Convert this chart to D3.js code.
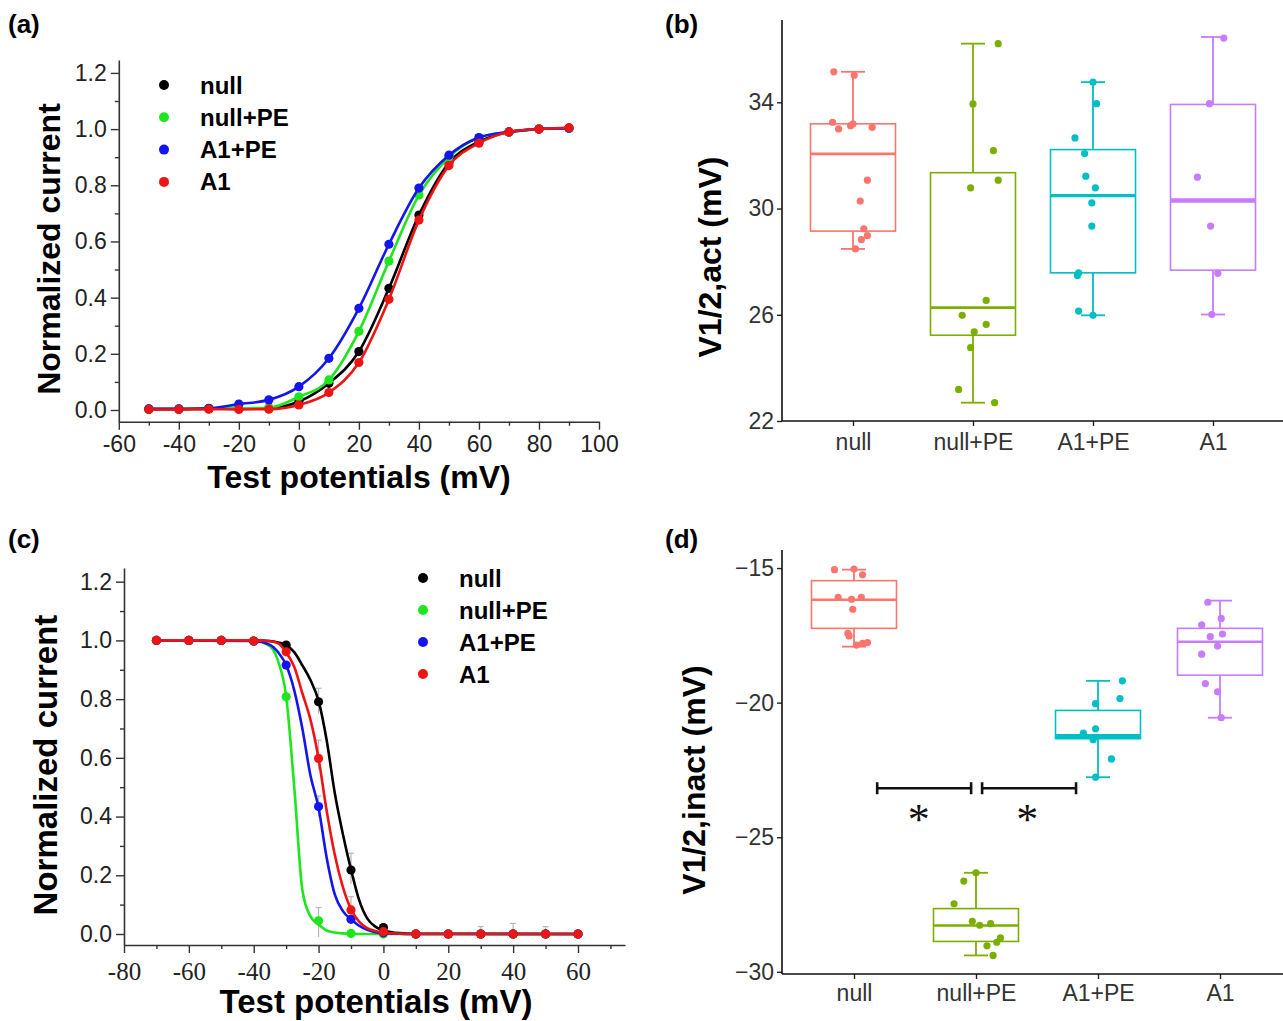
<!DOCTYPE html>
<html>
<head>
<meta charset="utf-8">
<script src="https://cdn.jsdelivr.net/npm/d3@7"></script>
<style>
body { margin: 0; background: #fff; }
svg { display: block; background: #fff; }
</style>
</head>
<body>
<svg id="fig"></svg>
<script>
let width = 1283
let height = 1021

let groups = ['null', 'null+PE', 'A1+PE', 'A1']
let lineColors = ['#000000', '#1ee61e', '#1414ee', '#ee1414']
let boxColors = ['#F8766D', '#7CAE00', '#00BFC4', '#C77CFF']

// (a) activation: measured points
let actV = [-50, -40, -30, -20, -10, 0, 10, 20, 30, 40, 50, 60, 70, 80, 90]
let actNull = [0.003, 0.003, 0.005, 0.005, 0.006, 0.03, 0.095, 0.208, 0.433, 0.694, 0.88, 0.955, 0.99, 1.0, 1.003]
let actNullPE = [0.003, 0.003, 0.005, 0.006, 0.008, 0.047, 0.107, 0.28, 0.53, 0.765, 0.9, 0.97, 0.99, 1.0, 1.003]
let actA1PE = [0.004, 0.004, 0.006, 0.021, 0.036, 0.083, 0.184, 0.362, 0.59, 0.79, 0.907, 0.97, 0.99, 1.0, 1.003]
let actA1 = [0.002, 0.002, 0.003, 0.002, 0.003, 0.018, 0.062, 0.169, 0.394, 0.676, 0.87, 0.95, 0.99, 1.0, 1.005]

// (c) inactivation: measured points
let inactV = [-70, -60, -50, -40, -30, -20, -10, 0, 10, 20, 30, 40, 50, 60]
let inactNull = [1, 1, 1, 0.998, 0.984, 0.791, 0.218, 0.022, 0, 0, 0, 0, 0, 0]
let inactNullPE = [1, 1, 1, 0.998, 0.808, 0.045, 0.002, 0, 0, 0, 0, 0, 0, 0]
let inactA1PE = [1, 1, 1, 0.998, 0.916, 0.434, 0.05, 0.004, 0, 0, 0, 0, 0, 0]
let inactA1 = [1, 1, 1, 0.998, 0.961, 0.598, 0.082, 0.008, 0, 0, 0, 0, 0, 0]

// (c) fitted curves
let fitV = [-70, -40, -35, -32.5, -30, -27.5, -25, -22.5, -20, -17.5, -15, -12.5, -10, -7.5, -5, -2.5, 0, 5, 10, 60]
let fitNull = [1, 1, 0.998, 0.993, 0.984, 0.96, 0.915, 0.865, 0.794, 0.66, 0.48, 0.34, 0.22, 0.116, 0.053, 0.025, 0.012, 0.003, 0.001, 0]
let fitNullPE = [1, 1, 0.98, 0.93, 0.81, 0.5, 0.15, 0.06, 0.032, 0.012, 0.005, 0.002, 0.001, 0, 0, 0, 0, 0, 0, 0]
let fitA1PE = [1, 0.998, 0.985, 0.96, 0.916, 0.83, 0.7, 0.54, 0.43, 0.26, 0.135, 0.078, 0.05, 0.028, 0.014, 0.006, 0.003, 0.001, 0, 0]
let fitA1 = [1, 1, 0.997, 0.99, 0.96, 0.91, 0.82, 0.73, 0.598, 0.42, 0.27, 0.16, 0.085, 0.042, 0.02, 0.01, 0.005, 0.001, 0, 0]

// (c) error bars
let errV = [-20, -10, -20, -10, -20, -20, 30, 40, 50]
let errLo = [0.75, 0.17, 0.56, 0.05, 0.40, -0.01, 0, 0, 0]
let errHi = [0.837, 0.275, 0.66, 0.127, 0.47, 0.09, 0.025, 0.036, 0.025]

// (b) V1/2,act box stats
let actLow = [28.48, 22.69, 25.98, 26.01]
let actQ1 = [29.15, 25.23, 27.58, 27.68]
let actMed = [32.06, 26.27, 30.49, 30.3]
let actQ3 = [33.19, 31.35, 32.22, 33.92]
let actHigh = [35.15, 36.21, 34.76, 36.46]
// jittered points: [offset in categories, value]
let actPtsNull = [[-0.16, 35.15], [0.01, 35.02], [-0.17, 33.25], [-0.12, 33.0], [-0.02, 33.12], [0.0, 33.19], [0.16, 33.06], [0.12, 31.07], [0.06, 30.28], [0.09, 29.24], [0.07, 28.83], [0.12, 28.98], [0.02, 28.48]]
let actPtsNullPE = [[0.21, 36.21], [0.0, 33.94], [0.17, 32.18], [0.21, 31.07], [-0.02, 30.78], [0.11, 26.54], [-0.09, 25.98], [0.11, 25.64], [0.01, 25.36], [-0.02, 24.76], [-0.12, 23.19], [0.18, 22.69]]
let actPtsA1PE = [[0.0, 34.76], [0.03, 33.95], [-0.15, 32.66], [-0.07, 32.07], [-0.06, 31.22], [0.02, 30.78], [-0.01, 30.21], [-0.01, 29.34], [-0.12, 27.58], [-0.13, 27.48], [-0.12, 26.14], [0.0, 25.98]]
let actPtsA1 = [[0.09, 36.42], [-0.03, 33.95], [-0.13, 31.18], [-0.02, 29.34], [0.04, 27.56], [-0.01, 26.01]]

// (d) V1/2,inact box stats
let inactLow = [-17.92, -29.39, -22.77, -20.56]
let inactQ1 = [-17.24, -28.87, -21.34, -18.98]
let inactMed = [-16.18, -28.28, -21.26, -17.74]
let inactQ3 = [-15.47, -27.65, -20.29, -17.24]
let inactHigh = [-15.06, -26.32, -19.19, -16.21]
let inactPtsNull = [[-0.16, -15.06], [0.0, -15.04], [0.07, -15.25], [-0.13, -16.09], [-0.02, -16.16], [0.06, -16.09], [-0.01, -16.53], [-0.05, -17.43], [-0.04, -17.52], [0.02, -17.86], [0.07, -17.8], [0.11, -17.77]]
let inactPtsNullPE = [[0.0, -26.32], [-0.1, -26.63], [-0.18, -27.47], [-0.03, -28.12], [0.03, -28.27], [0.12, -28.21], [0.2, -28.74], [0.17, -28.9], [0.09, -29.03], [0.14, -29.39]]
let inactPtsA1PE = [[0.2, -19.19], [0.18, -19.85], [-0.02, -20.04], [-0.02, -20.97], [-0.12, -21.13], [-0.04, -21.38], [0.11, -22.09], [-0.02, -22.77]]
let inactPtsA1 = [[-0.1, -16.27], [0.01, -16.87], [-0.15, -17.11], [0.02, -17.45], [-0.08, -17.55], [-0.02, -17.9], [-0.15, -18.2], [-0.12, -19.29], [-0.02, -19.6], [0.01, -20.56]]

// (d) significance brackets (category units)
let sigFrom = [0.19, 1.05]
let sigTo = [0.96, 1.82]
let sigStar = [0.53, 1.42]
let sigY = -23.18
let sigLabel = '*'

let sans = "'Liberation Sans', Arial, sans-serif"
let serif = "'Liberation Serif', 'Times New Roman', serif"

let svg = d3.select('#fig').attr('width', width).attr('height', height)

svg.append('rect').attr('width', width).attr('height', height).attr('fill', '#fff')

let panelLabel = (txt, x, y) => {
    svg.append('text')
       .attr('x', x).attr('y', y)
       .attr('font-family', sans).attr('font-weight', 'bold').attr('font-size', 26)
       .text(txt)
}

let rotLabel = (txt, cx, cy, size) => {
    svg.append('text')
       .attr('transform', 'translate(' + cx + ',' + cy + ') rotate(-90)')
       .attr('text-anchor', 'middle')
       .attr('dominant-baseline', 'central')
       .attr('font-family', sans).attr('font-weight', 'bold').attr('font-size', size)
       .text(txt)
}

let range = (a, b, s) => d3.range(a, b + s / 2, s)

// ---------- curve panels (a) and (c) ----------
let drawCurvePanel = (opt) => {
    let x = opt.x, y = opt.y
    let g = svg.append('g')

    // minor ticks
    g.append('g')
     .attr('transform', 'translate(0,' + opt.axisY + ')')
     .call(d3.axisBottom(x).tickValues(opt.xMinor).tickSize(4).tickFormat(''))
     .call(s => s.select('.domain').remove())
    g.append('g')
     .attr('transform', 'translate(' + opt.axisX + ',0)')
     .call(d3.axisLeft(y).tickValues(opt.yMinor).tickSize(4).tickFormat(''))
     .call(s => s.select('.domain').remove())

    let xAxis = g.append('g')
     .attr('transform', 'translate(0,' + opt.axisY + ')')
     .call(d3.axisBottom(x).tickValues(opt.xMajor).tickSize(8).tickSizeOuter(0)
             .tickPadding(opt.xPad).tickFormat(d => String(d)))
    xAxis.selectAll('text').attr('font-family', opt.xFont).attr('font-size', opt.xFontSize).attr('fill', '#222')

    let yAxis = g.append('g')
     .attr('transform', 'translate(' + opt.axisX + ',0)')
     .call(d3.axisLeft(y).tickValues(range(0, 1.2, 0.2)).tickSize(8).tickSizeOuter(0)
             .tickPadding(4).tickFormat(d3.format('.1f')))
    yAxis.selectAll('text').attr('font-family', sans).attr('font-size', 23).attr('fill', '#222')

    g.selectAll('.domain, .tick line').attr('stroke', '#333').attr('stroke-width', 1.6)
    g.selectAll('.tick line').attr('stroke', '#333').attr('stroke-width', 1.4)

    // error bars
    if (opt.err) {
        opt.err.v.forEach((v, i) => {
            let ex = x(v)
            g.append('line').attr('x1', ex).attr('x2', ex)
             .attr('y1', y(opt.err.lo[i])).attr('y2', y(opt.err.hi[i]))
             .attr('stroke', '#b8b8b8').attr('stroke-width', 1.2)
            g.append('line').attr('x1', ex - 3).attr('x2', ex + 3)
             .attr('y1', y(opt.err.hi[i])).attr('y2', y(opt.err.hi[i]))
             .attr('stroke', '#b8b8b8').attr('stroke-width', 1.2)
        })
    }

    let line = d3.line().x(d => x(d[0])).y(d => y(d[1])).curve(d3.curveMonotoneX)

    opt.series.forEach((s, i) => {
        let lineData = s.fitX.map((v, j) => [v, s.fitY[j]])
        g.append('path').datum(lineData)
         .attr('d', line)
         .attr('fill', 'none')
         .attr('stroke', lineColors[i])
         .attr('stroke-width', 2.6)
        g.selectAll(null).data(s.xs.map((v, j) => [v, s.ys[j]]))
         .enter().append('circle')
         .attr('cx', d => x(d[0])).attr('cy', d => y(d[1]))
         .attr('r', 4.6)
         .attr('fill', lineColors[i])
    })

    // legend
    groups.forEach((name, i) => {
        let ly = opt.legY + i * opt.legStep
        g.append('circle').attr('cx', opt.legX).attr('cy', ly).attr('r', 5).attr('fill', lineColors[i])
        g.append('text').attr('x', opt.legX + 36).attr('y', ly)
         .attr('dominant-baseline', 'central')
         .attr('font-family', sans).attr('font-weight', 'bold').attr('font-size', 24)
         .text(name)
    })
}

// (a)
drawCurvePanel({
    x: d3.scaleLinear().domain([-60, 100]).range([118.8, 599]),
    y: d3.scaleLinear().domain([-0.0417, 1.246]).range([421.7, 60]),
    axisX: 118.8, axisY: 421.7,
    xMajor: range(-60, 100, 20), xMinor: range(-50, 90, 20),
    yMinor: range(0.1, 1.1, 0.2),
    xFont: sans, xFontSize: 23, xPad: 6,
    series: [
        {xs: actV, ys: actNull, fitX: actV, fitY: actNull},
        {xs: actV, ys: actNullPE, fitX: actV, fitY: actNullPE},
        {xs: actV, ys: actA1PE, fitX: actV, fitY: actA1PE},
        {xs: actV, ys: actA1, fitX: actV, fitY: actA1}
    ],
    legX: 164, legY: 85, legStep: 32.3
})

// (c)
drawCurvePanel({
    x: d3.scaleLinear().domain([-80, 74.5]).range([124, 625]),
    y: d3.scaleLinear().domain([-0.0375, 1.2466]).range([945, 568]),
    axisX: 124, axisY: 945,
    xMajor: range(-80, 60, 20), xMinor: range(-70, 70, 20),
    yMinor: range(0.1, 1.1, 0.2),
    xFont: serif, xFontSize: 25, xPad: 9,
    err: {v: errV, lo: errLo, hi: errHi},
    series: [
        {xs: inactV, ys: inactNull, fitX: fitV, fitY: fitNull},
        {xs: inactV, ys: inactNullPE, fitX: fitV, fitY: fitNullPE},
        {xs: inactV, ys: inactA1PE, fitX: fitV, fitY: fitA1PE},
        {xs: inactV, ys: inactA1, fitX: fitV, fitY: fitA1}
    ],
    legX: 423, legY: 578, legStep: 32
})

// ---------- box panels (b) and (d) ----------
let drawBoxPanel = (opt) => {
    let x = opt.x, y = opt.y
    let g = svg.append('g')
    let step = x.step()
    let boxW = 85
    let capW = 24

    let yAxis = g.append('g')
     .attr('transform', 'translate(' + opt.axisX + ',0)')
     .call(d3.axisLeft(y).tickValues(opt.yTicks).tickSize(5).tickSizeOuter(0).tickPadding(3))
    yAxis.select('.domain').remove()
    yAxis.selectAll('text').attr('font-family', sans).attr('font-size', 23).attr('fill', '#333')

    let xAxis = g.append('g')
     .attr('transform', 'translate(0,' + opt.axisY + ')')
     .call(d3.axisBottom(x).tickSize(5).tickSizeOuter(0).tickPadding(opt.xPad))
    xAxis.select('.domain').remove()
    xAxis.selectAll('text').attr('font-family', sans).attr('font-size', 23).attr('fill', '#333')
    g.selectAll('.tick line').attr('stroke', '#222').attr('stroke-width', 1.4)

    g.append('line').attr('x1', opt.axisX).attr('x2', opt.axisX)
     .attr('y1', opt.axisTop).attr('y2', opt.axisY)
     .attr('stroke', '#111').attr('stroke-width', 1.6)
    g.append('line').attr('x1', opt.axisX).attr('x2', width)
     .attr('y1', opt.axisY).attr('y2', opt.axisY)
     .attr('stroke', '#111').attr('stroke-width', 1.6)

    groups.forEach((name, i) => {
        let cx = x(name)
        let c = boxColors[i]
        // whiskers
        g.append('line').attr('x1', cx).attr('x2', cx)
         .attr('y1', y(opt.q3[i])).attr('y2', y(opt.high[i]))
         .attr('stroke', c).attr('stroke-width', 1.8)
        g.append('line').attr('x1', cx).attr('x2', cx)
         .attr('y1', y(opt.q1[i])).attr('y2', y(opt.low[i]))
         .attr('stroke', c).attr('stroke-width', 1.8)
        g.append('line').attr('x1', cx - capW / 2).attr('x2', cx + capW / 2)
         .attr('y1', y(opt.high[i])).attr('y2', y(opt.high[i]))
         .attr('stroke', c).attr('stroke-width', 1.8)
        g.append('line').attr('x1', cx - capW / 2).attr('x2', cx + capW / 2)
         .attr('y1', y(opt.low[i])).attr('y2', y(opt.low[i]))
         .attr('stroke', c).attr('stroke-width', 1.8)
        // box
        g.append('rect')
         .attr('x', cx - boxW / 2).attr('y', y(opt.q3[i]))
         .attr('width', boxW).attr('height', y(opt.q1[i]) - y(opt.q3[i]))
         .attr('fill', '#fff').attr('stroke', c).attr('stroke-width', 1.6)
        g.append('line').attr('x1', cx - boxW / 2).attr('x2', cx + boxW / 2)
         .attr('y1', y(opt.med[i])).attr('y2', y(opt.med[i]))
         .attr('stroke', c).attr('stroke-width', opt.medW[i])
        // points
        g.selectAll(null).data(opt.pts[i]).enter().append('circle')
         .attr('cx', d => cx + d[0] * step)
         .attr('cy', d => y(d[1]))
         .attr('r', 3.6)
         .attr('fill', c)
    })
}

// (b)
drawBoxPanel({
    x: d3.scalePoint().domain(groups).range([853, 1213]),
    y: d3.scaleLinear().domain([22, 37.1]).range([421, 20]),
    axisX: 782, axisY: 421, axisTop: 20, xPad: 8,
    yTicks: [22, 26, 30, 34],
    low: actLow, q1: actQ1, med: actMed, q3: actQ3, high: actHigh,
    medW: [2.6, 2.6, 3.2, 4.5],
    pts: [actPtsNull, actPtsNullPE, actPtsA1PE, actPtsA1]
})

// (d)
let xD = d3.scalePoint().domain(groups).range([854, 1220])
let yD = d3.scaleLinear().domain([-30.08, -14.33]).range([974, 550])
drawBoxPanel({
    x: xD, y: yD,
    axisX: 782, axisY: 974, axisTop: 550, xPad: 6,
    yTicks: [-30, -25, -20, -15],
    low: inactLow, q1: inactQ1, med: inactMed, q3: inactQ3, high: inactHigh,
    medW: [2.6, 2.6, 5, 2.6],
    pts: [inactPtsNull, inactPtsNullPE, inactPtsA1PE, inactPtsA1]
})

// significance brackets in (d)
let catX = u => xD(groups[0]) + u * xD.step()
sigFrom.forEach((f, i) => {
    let x1 = catX(f), x2 = catX(sigTo[i]), by = yD(sigY)
    svg.append('line').attr('x1', x1).attr('x2', x2).attr('y1', by).attr('y2', by)
       .attr('stroke', '#111').attr('stroke-width', 2.6)
    ;[x1, x2].forEach(ex => {
        svg.append('line').attr('x1', ex).attr('x2', ex).attr('y1', by - 6).attr('y2', by + 6)
           .attr('stroke', '#111').attr('stroke-width', 2.6)
    })
    svg.append('text').attr('x', catX(sigStar[i])).attr('y', by + 46)
       .attr('text-anchor', 'middle')
       .attr('font-family', serif).attr('font-size', 44).attr('fill', '#111')
       .text(sigLabel)
})

// text labels
panelLabel('(a)', 8, 33)
panelLabel('(b)', 665, 33)
panelLabel('(c)', 8, 548)
panelLabel('(d)', 665, 548)

rotLabel('Normalized current', 49, 249, 32)
rotLabel('Normalized current', 45, 765, 33)
rotLabel('V1/2,act (mV)', 710, 257, 32)
rotLabel('V1/2,inact (mV)', 694, 780, 32)

svg.append('text').attr('x', 359).attr('y', 477).attr('text-anchor', 'middle')
   .attr('dominant-baseline', 'central')
   .attr('font-family', sans).attr('font-weight', 'bold').attr('font-size', 32)
   .text('Test potentials (mV)')
svg.append('text').attr('x', 376).attr('y', 1001).attr('text-anchor', 'middle')
   .attr('dominant-baseline', 'central')
   .attr('font-family', sans).attr('font-weight', 'bold').attr('font-size', 33)
   .text('Test potentials (mV)')
</script>
</body>
</html>
